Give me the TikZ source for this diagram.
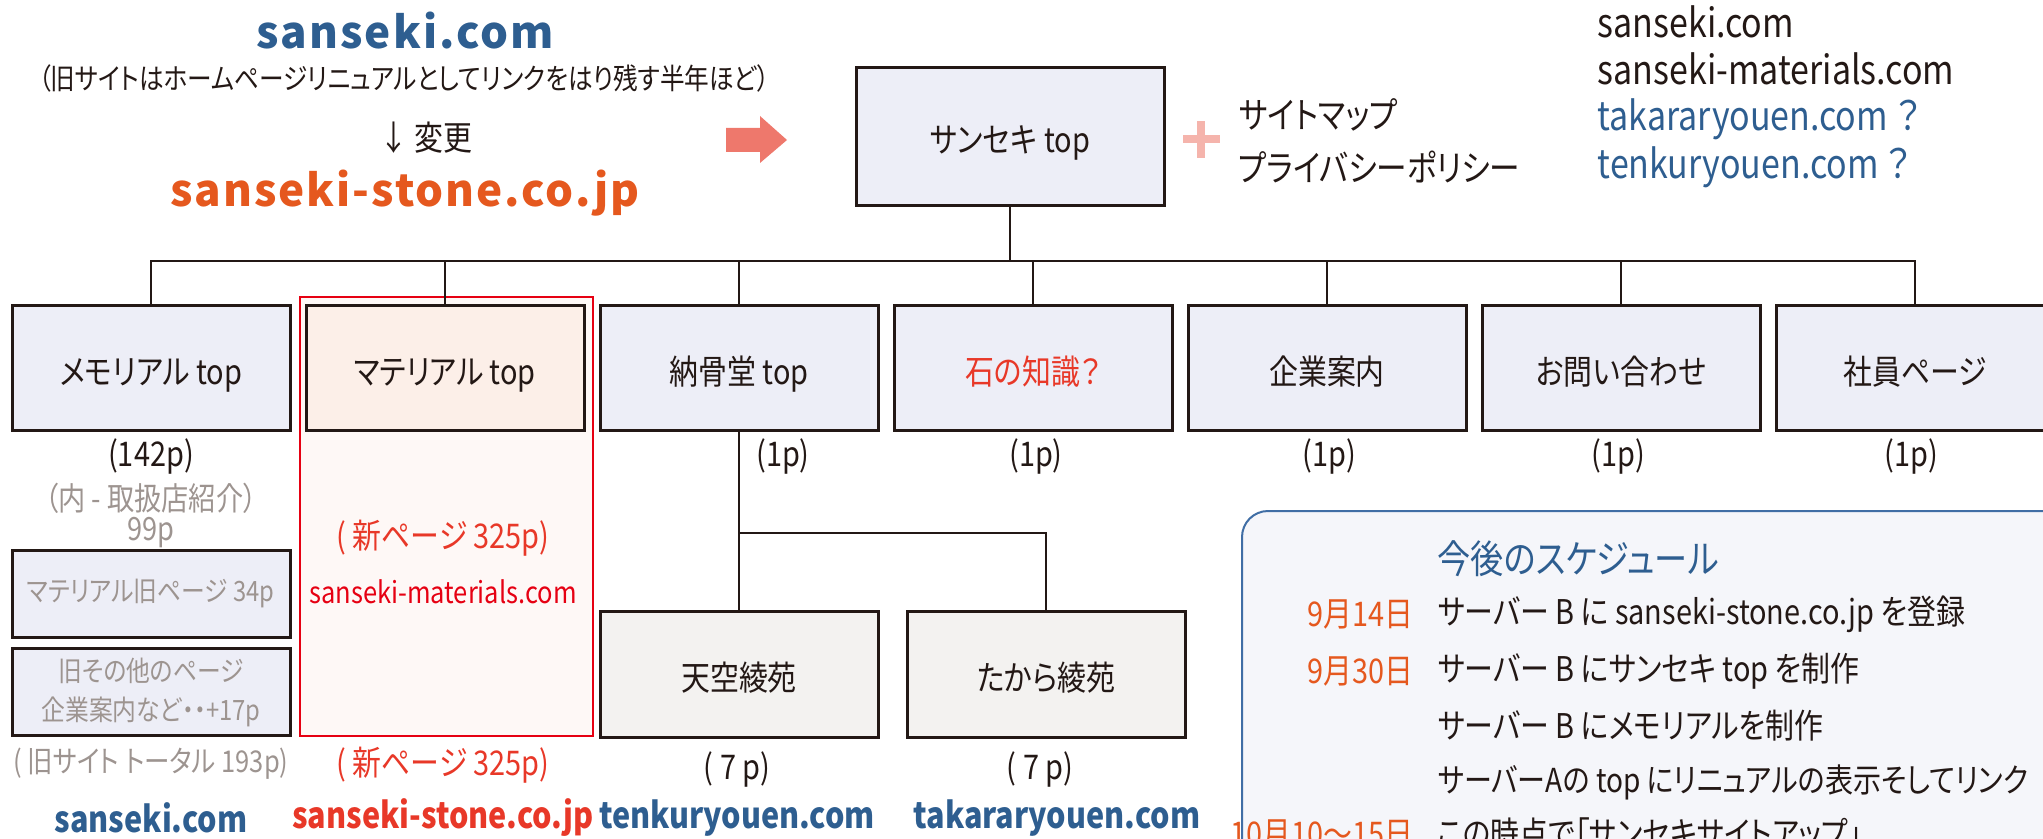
\documentclass[tikz,border=0pt]{standalone}
\usepackage{fontspec}
\setmainfont{Noto Sans CJK JP}
\newfontfamily\cjk[FakeStretch=0.85,RawFeature=+palt]{Noto Sans CJK JP}
\newfontfamily\cjkwide[LetterSpace=4.5]{Noto Sans CJK JP}

\definecolor{inkc}{RGB}{35,24,21}
\definecolor{boxc}{RGB}{237,238,247}
\definecolor{matc}{RGB}{252,239,232}
\definecolor{regionc}{RGB}{254,248,246}
\definecolor{subc}{RGB}{243,242,240}
\definecolor{redc}{RGB}{230,0,18}
\definecolor{newc}{RGB}{232,56,40}
\definecolor{orangec}{RGB}{229,88,30}
\definecolor{bluec}{RGB}{46,94,144}
\definecolor{grayc}{RGB}{157,148,144}
\definecolor{pinkc}{RGB}{238,120,108}
\definecolor{plusc}{RGB}{245,180,172}
\definecolor{schedc}{RGB}{245,246,250}
\definecolor{framec}{RGB}{64,110,165}

\tikzset{every picture/.style={line width=0.75pt}}
\tikzset{
  link/.style={draw=inkc, line width=1.25pt},
  pagebox/.style={draw=inkc, line width=1.5pt, fill=boxc, minimum width=139pt, minimum height=62.5pt, inner sep=0pt, text height=17pt, text depth=1pt, text=inkc, font=\cjk\fontsize{17}{20}\selectfont},
  oldbox/.style={pagebox, text height=, text depth=, minimum height=43.5pt, text=grayc, align=center, font=\cjk\fontsize{14}{19.5}\selectfont},
  subbox/.style={pagebox, fill=subc, minimum height=63pt},
  count/.style={inner sep=0pt, text=inkc, font=\cjk\fontsize{17}{20}\selectfont},
  graynote/.style={count, text=grayc, font=\cjk\fontsize{16}{19}\selectfont},
  urlname/.style={inner sep=0pt, font=\cjk\bfseries\fontsize{18}{21}\selectfont},
  plan/.style={anchor=west, inner sep=0pt, text=inkc, font=\cjk\fontsize{17}{20}\selectfont},
  plandate/.style={plan, anchor=east, text=orangec},
}

\begin{document}
\begin{tikzpicture}[x=0.5pt,y=0.5pt,yscale=-1,xscale=1]
	\useasboundingbox (0,0) rectangle (2043,839);

	%Shape: Rectangle (new material pages)
	\draw [draw=redc, line width=0.7pt, fill=regionc] (300,297) rectangle (593,736);
	%Shape: Rounded Rectangle (schedule)
	\draw [draw=framec, line width=1pt, fill=schedc, rounded corners=13pt] (1242,511) rectangle (2090,890);

	%Shape: Block Arrow
	\fill [pinkc] (726,128) -- (760,128) -- (760,116) -- (787,140) -- (760,163) -- (760,152) -- (726,152) -- cycle;
	%Shape: Plus
	\fill [plusc] (1183,135) rectangle (1220,143);
	\fill [plusc] (1197,121) rectangle (1205,158);

	% Site tree
	\node [pagebox, minimum width=154pt, minimum height=69pt] (top) at (1010,137) {サンセキ top};
	\node [pagebox] (memorial) at (151,368) {メモリアル top};
	\node [pagebox, fill=matc] (material) at (445,368) {マテリアル top};
	\node [pagebox] (nokotsu) at (739,368) {納骨堂 top};
	\node [pagebox, text=newc] (ishi) at (1033,368) {石の知識？};
	\node [pagebox] (kigyo) at (1327,368) {企業案内};
	\node [pagebox] (toiawase) at (1621,368) {お問い合わせ};
	\node [pagebox] (shain) at (1915,368) {社員ページ};
	\node [subbox] (tenku) at (739,674) {天空綾苑};
	\node [subbox] (takara) at (1046,674) {たから綾苑};
	\node [oldbox] (oldmat) at (151,594) {マテリアル旧ページ 34p};
	\node [oldbox] (oldother) at (151,692) {旧その他のページ\\企業案内など・・+17p};

	%Straight Lines
	\coordinate (bus) at (1010,261);
	\draw [link] (top.south) -- (bus);
	\foreach \n in {memorial,material,nokotsu,ishi,kigyo,toiawase,shain}
		\draw [link] (bus) -| (\n.north);
	\coordinate (bus2) at (739,533);
	\draw [link] (nokotsu.south) -- (bus2);
	\draw [link] (bus2) -| (tenku.north);
	\draw [link] (bus2) -| (takara.north);

	% Text Node
	\node [count] (cmem) at (151,456) {(142p)};
	\node [count] (cnok) at (783,456) {(1p)};
	\node [count] (cishi) at (1036,456) {(1p)};
	\node [count] (ckigyo) at (1329,456) {(1p)};
	\node [count] (ctoi) at (1618,456) {(1p)};
	\node [count] (cshain) at (1911,456) {(1p)};
	\node [count] (ctenku) at (737,769) {( 7 p)};
	\node [count] (ctakara) at (1040,769) {( 7 p)};
	\node [graynote] (within) at (151,498) {（内 - 取扱店紹介）};
	\node [graynote] (within99) at (151,533) {99p};
	\node [graynote, font=\cjk\fontsize{15}{18}\selectfont] (oldtotal) at (151,764) {( 旧サイト トータル 193p)};
	\node [count, text=newc] (newpages) at (443,538) {( 新ページ 325p)};
	\node [count, text=redc, font=\cjk\fontsize{15}{18}\selectfont] (matdomain) at (443,592) {sanseki-materials.com};
	\node [count, text=newc] (newpages2) at (443,765) {( 新ページ 325p)};

	% Domains under the tree
	\node [urlname, text=bluec] (domold) at (151,818) {sanseki.com};
	\node [urlname, text=newc] (domstone) at (443,818) {sanseki-stone.co.jp};
	\node [urlname, text=bluec] (domtenku) at (737,818) {tenkuryouen.com};
	\node [urlname, text=bluec] (domtakara) at (1057,818) {takararyouen.com};

	% Domain change
	\node [inner sep=0pt, text=bluec, font=\cjkwide\bfseries\fontsize{22}{26}\selectfont] (olddomain) at (405,31) {sanseki.com};
	\node [count, font=\cjk\fontsize{14.5}{17}\selectfont] (oldnote) at (404,78) {（旧サイトはホームページリニュアルとしてリンクをはり残す半年ほど）};
	\node [count] (change) at (426,138) {↓ 変更};
	\node [inner sep=0pt, text=orangec, font=\cjkwide\bfseries\fontsize{22}{26}\selectfont] (newdomain) at (405,193) {sanseki-stone.co.jp};

	% Extras and domain list
	\node [plan, font=\cjk\fontsize{18}{21}\selectfont] (sitemap) at (1238,115) {サイトマップ};
	\node [plan, font=\cjk\fontsize{18}{21}\selectfont] (privacy) at (1238,167) {プライバシーポリシー};
	\node [plan, font=\cjk\fontsize{20}{24}\selectfont] (list1) at (1597,22) {sanseki.com};
	\node [plan, font=\cjk\fontsize{20}{24}\selectfont] (list2) at (1597,69) {sanseki-materials.com};
	\node [plan, text=bluec, font=\cjk\fontsize{20}{24}\selectfont] (list3) at (1597,119) {takararyouen.com ？};
	\node [plan, text=bluec, font=\cjk\fontsize{20}{24}\selectfont] (list4) at (1597,167) {tenkuryouen.com ？};

	% Schedule
	\node [plan, text=bluec, font=\cjk\fontsize{19.5}{23}\selectfont] (schedtitle) at (1437,559) {今後のスケジュール};
	\node [plandate] (d1) at (1414,614) {9月14日};
	\node [plan] (t1) at (1437,614) {サーバー B に sanseki-stone.co.jp を登録};
	\node [plandate] (d2) at (1414,671) {9月30日};
	\node [plan] (t2) at (1437,671) {サーバー B にサンセキ top を制作};
	\node [plan] (t3) at (1437,726) {サーバー B にメモリアルを制作};
	\node [plan, font=\cjk\fontsize{16.5}{20}\selectfont] (t4) at (1437,782) {サーバーAの top にリニュアルの表示そしてリンク};
	\node [plandate] (d5) at (1414,834) {10月10～15日};
	\node [plan] (t5) at (1437,834) {この時点で「サンセキサイトアップ」};
\end{tikzpicture}
\end{document}
